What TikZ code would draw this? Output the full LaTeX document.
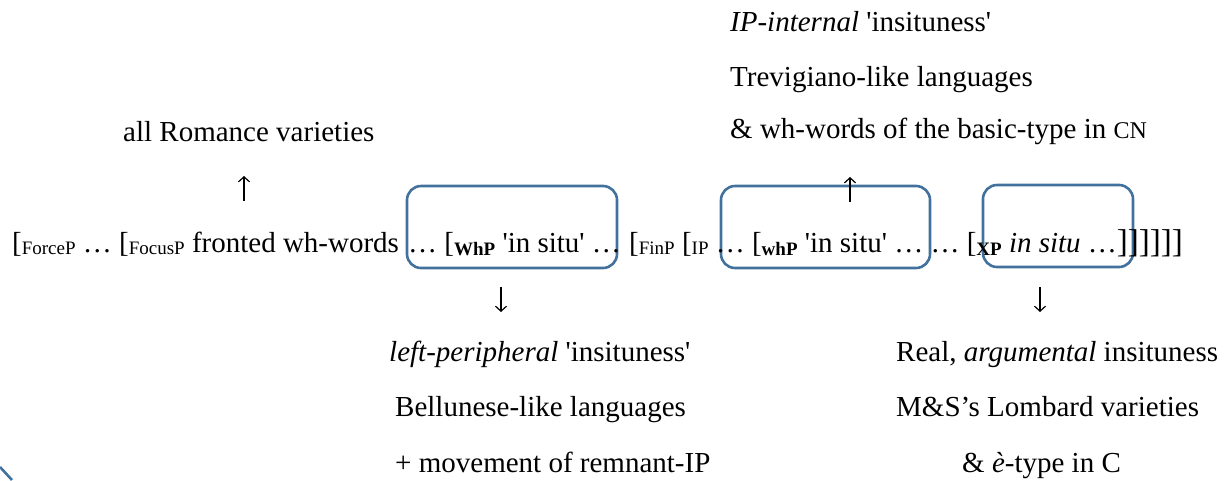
\documentclass[tikz,border=0pt]{standalone}
\usepackage{fontspec}
\setmainfont{Liberation Serif}[Ligatures=TeXOff]
\usetikzlibrary{arrows.meta}
\definecolor{boxblue}{RGB}{65,113,156}
\newcommand{\lsub}[1]{\raisebox{-2pt}{\fontsize{19}{19}\selectfont #1}}
\newcommand{\bsub}[1]{\raisebox{-3pt}{\fontsize{19}{19}\selectfont\bfseries #1}}
\begin{document}
\begin{tikzpicture}[x=1pt,y=-1pt,
  txt/.style={anchor=base west, inner sep=0pt, font=\fontsize{29}{34}\selectfont},
  hl/.style={draw=boxblue, line width=2.6pt, rounded corners=14pt, rectangle, inner sep=0pt},
  arr/.style={line width=1.2pt, -{Straight Barb[length=5pt,width=11pt]}}]
\useasboundingbox (0,0) rectangle (1228,480);

% highlight boxes
\node[hl, minimum width=210pt, minimum height=82pt] (b1) at (512,227) {};
\node[hl, minimum width=209pt, minimum height=82pt] (b2) at (825.5,227) {};
\node[hl, minimum width=150pt, minimum height=82pt] (b3) at (1058,226) {};

% main line
\node[txt] (m1) at (12,252) {[\lsub{ForceP} … [\lsub{FocusP} fronted wh-words};
\node[txt] (m2) at (408,252) {… [\bsub{WhP} 'in situ' …};
\node[txt] (m3) at (629,252) {[\lsub{FinP} [\lsub{IP} … [\bsub{whP} 'in situ' … … [\bsub{XP} \textit{in situ} …{\fontsize{33}{33}\selectfont ]]]]]]}};

% top texts
\node[txt] (t0) at (123,141) {all Romance varieties};
\node[txt] (t1) at (730,31) {\textit{IP-internal} 'insituness'};
\node[txt] (t2) at (730,86) {Trevigiano-like languages};
\node[txt] (t3) at (730,138) {\& wh-words of the basic-type in {\fontsize{24}{24}\selectfont CN}};

% bottom texts
\node[txt] (l1) at (389,361) {\textit{left-peripheral} 'insituness'};
\node[txt] (l2) at (395,416) {Bellunese-like languages};
\node[txt] (l3) at (395,472) {+ movement of remnant-IP};
\node[txt] (r1) at (896,361) {Real, \textit{argumental} insituness};
\node[txt] (r2) at (896,416) {M\&S’s Lombard varieties};
\node[txt] (r3) at (962,472) {\& \textit{è}-type in C};

% arrows
\coordinate (u1s) at (244,201); \coordinate (u1e) at (244,176);
\coordinate (u2s) at (850,202); \coordinate (u2e) at (850,177);
\coordinate (d1s) at (501,287); \coordinate (d1e) at (501,312);
\coordinate (d2s) at (1040,287); \coordinate (d2e) at (1040,312);
\draw[arr] (u1s) -- (u1e);
\draw[arr] (u2s) -- (u2e);
\draw[arr] (d1s) -- (d1e);
\draw[arr] (d2s) -- (d2e);

% partial shape at bottom-left corner
\coordinate (c1) at (0,467); \coordinate (c2) at (12,480);
\draw[draw=boxblue, line width=2.6pt] (c1) -- (c2);
\end{tikzpicture}
\end{document}
